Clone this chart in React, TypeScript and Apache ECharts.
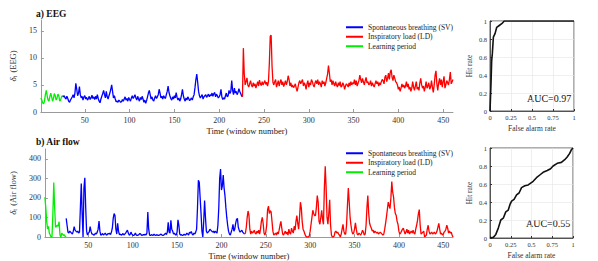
import React, { useEffect, useRef } from "react";
import * as echarts from "echarts";

// ---- window ranges ----
const learnStart = 1;
const svStart = 25;
const ldStart = 226;

// ---- a) EEG ----
const eegLearn = [2.6, 2.2, 1.7, 1.5, 2.0, 3.2, 4.0, 3.0, 2.2, 2.0, 2.8, 3.5, 2.8, 2.0, 2.5, 3.4, 3.0, 2.2, 2.6, 3.3, 3.0, 2.0, 2.2, 2.8, 3.0];
const eegSV = [
  3.0, 2.8, 3.0, 2.6, 2.4, 2.9, 2.5, 2.0, 1.8, 2.2,
  2.5, 2.8, 3.2, 2.6, 3.5, 5.3, 4.2, 3.0, 3.5, 4.7,
  3.2, 2.6, 2.9, 2.2, 2.8, 3.0, 2.4, 2.7, 2.2, 2.5,
  2.9, 2.3, 2.6, 3.1, 2.5, 2.8, 2.3, 2.9, 2.4, 3.2,
  2.5, 2.0, 1.7, 2.4, 2.9, 3.4, 4.0, 3.2, 2.6, 3.8,
  2.8, 2.4, 3.0, 3.5, 4.2, 5.0, 3.8, 2.6, 3.0, 2.4,
  1.9, 2.0, 1.8, 2.2, 2.0, 1.8, 1.9, 2.3, 2.0, 2.4,
  2.8, 2.2, 2.5, 2.0, 2.7, 2.3, 2.0, 2.6, 3.0, 2.5,
  2.8, 3.2, 2.6, 2.2, 2.9, 2.4, 2.0, 2.7, 2.3, 2.9,
  2.4, 1.8, 2.2, 1.6, 2.1, 2.8, 3.5, 4.0, 3.2, 2.4,
  2.8, 2.2, 2.0, 2.6, 3.0, 2.5, 2.8, 3.2, 4.2, 3.5,
  2.6, 2.9, 2.4, 3.0, 2.7, 2.5, 3.2, 3.8, 4.8, 3.6,
  3.0, 2.5, 2.2, 2.8, 2.4, 3.0, 2.6, 3.6, 2.7, 2.2,
  2.6, 2.0, 2.4, 3.2, 4.2, 3.0, 2.4, 2.0, 2.6, 2.2,
  2.8, 2.5, 2.1, 2.3, 2.6, 2.2, 2.8, 3.2, 4.5, 6.0,
  7.0, 5.5, 3.8, 3.0, 2.6, 2.9, 3.2, 2.4, 2.8, 3.0,
  3.2, 2.7, 3.0, 3.3, 2.8, 3.2, 3.0, 3.5, 2.9, 3.4,
  3.6, 2.8, 3.3, 3.0, 2.6, 2.8, 3.2, 4.2, 2.8, 2.3,
  2.6, 2.4, 3.0, 3.5, 2.8, 3.0, 4.0, 3.4, 3.8, 5.8,
  4.0, 3.2, 4.4, 3.5, 3.8, 3.2, 3.6, 4.3, 3.8, 3.4,
  3.0, 2.8,
];
const eegLD = [
  2.8, 11.8, 7.0, 5.0, 5.6, 6.3, 5.0, 4.6, 5.2, 5.8,
  5.0, 4.6, 5.4, 4.8, 5.2, 4.4, 5.0, 5.6, 4.8, 5.9,
  5.2, 4.9, 5.6, 5.0, 5.4, 5.8, 5.1, 5.5, 4.8, 5.6,
  9.0, 14.0, 14.2, 8.5, 5.5, 5.0, 5.6, 6.0, 4.6, 5.2,
  5.8, 4.8, 5.5, 6.0, 5.0, 5.6, 4.7, 5.2, 5.8, 5.0,
  5.6, 6.7, 6.0, 4.8, 5.4, 4.6, 5.0, 4.5, 4.8, 5.2,
  4.4, 3.8, 4.6, 5.4, 5.8, 5.2, 5.6, 6.0, 4.8, 5.4,
  5.0, 4.2, 5.2, 5.8, 4.6, 5.4, 5.0, 6.0, 5.6, 5.0,
  4.6, 5.4, 5.8, 5.2, 6.0, 5.0, 5.6, 5.2, 4.6, 5.8,
  5.2, 5.6, 4.8, 5.4, 6.2, 7.0, 8.6, 7.2, 5.6, 6.0,
  5.0, 5.8, 5.2, 4.8, 5.6, 5.0, 4.6, 5.4, 4.9, 5.6,
  4.6, 4.8, 5.4, 5.0, 4.2, 4.8, 5.2, 5.0, 4.6, 5.4,
  4.8, 5.6, 5.0, 5.4, 5.2, 6.0, 5.0, 5.8, 4.8, 5.3,
  5.8, 6.8, 6.0, 5.4, 6.2, 5.6, 5.0, 5.8, 6.4, 5.4,
  5.6, 5.0, 5.2, 5.8, 4.8, 5.4, 5.0, 4.6, 5.2, 5.8,
  5.2, 5.6, 4.8, 5.4, 5.0, 5.6, 6.0, 5.8, 5.2, 6.4,
  6.8, 5.6, 6.2, 7.2, 6.0, 7.4, 7.8, 6.4, 5.8, 6.8,
  6.2, 5.6, 5.4, 5.0, 4.2, 4.6, 3.8, 4.4, 5.2, 4.6,
  5.0, 4.4, 4.8, 5.6, 4.6, 5.2, 4.2, 4.6, 3.8, 4.4,
  5.6, 4.6, 4.0, 4.8, 5.6, 4.2, 4.6, 4.0, 5.4, 6.2,
  5.0, 4.4, 4.8, 3.8, 4.6, 5.6, 4.4, 4.8, 5.4, 4.2,
  4.6, 5.8, 4.6, 3.6, 5.0, 6.8, 7.6, 5.2, 4.0, 5.4,
  6.2, 5.0, 6.0, 4.6, 5.6, 6.6, 4.4, 5.0, 5.8, 5.4,
  5.0, 6.0, 7.4, 5.2, 5.6, 6.0,
];

// ---- b) Air flow ----
const airLearn = [203, 150, 80, 40, 55, 20, 10, 0, 2, 120, 278, 150, 50, 55, 60, 55, 78, 10, 0, 20, 15, 8, 12, 2, 0];
const airSV = [
  95, 60, 25, 20, 30, 25, 20, 15, 30, 53,
  35, 30, 25, 30, 20, 25, 150, 273, 120, 0,
  250, 303, 150, 30, 10, 20, 25, 53, 30, 15,
  15, 10, 12, 20, 15, 25, 40, 82, 30, 10,
  12, 18, 10, 15, 20, 12, 10, 18, 15, 20,
  12, 25, 45, 95, 120, 110, 40, 15, 70, 30,
  12, 15, 10, 12, 18, 10, 15, 20, 28, 35,
  20, 10, 12, 25, 15, 10, 8, 12, 20, 10,
  8, 10, 12, 18, 15, 8, 10, 12, 10, 15,
  10, 20, 128, 40, 10, 8, 12, 10, 8, 15,
  10, 8, 12, 10, 8, 10, 12, 15, 10, 8,
  10, 15, 20, 12, 25, 75, 25, 20, 85, 40,
  30, 15, 20, 12, 10, 25, 88, 60, 15, 10,
  12, 8, 10, 15, 10, 12, 20, 15, 10, 25,
  20, 28, 15, 10, 20, 15, 25, 40, 150, 290,
  280, 200, 120, 30, 0, 80, 187, 100, 30, 20,
  25, 30, 40, 35, 30, 25, 30, 20, 30, 25,
  20, 60, 150, 300, 348, 240, 260, 317, 250, 210,
  150, 100, 60, 30, 15, 10, 25, 40, 65, 30,
  40, 70, 90, 95, 50, 35, 25, 30, 35, 25,
  20, 15,
];
const airLD = [
  15, 20, 50, 100, 133, 110, 40, 15, 30, 20,
  25, 35, 20, 15, 30, 20, 35, 15, 40, 80,
  100, 70, 20, 10, 25, 60, 140, 158, 120, 135,
  128, 80, 30, 10, 15, 20, 10, 25, 15, 35,
  60, 80, 45, 15, 10, 20, 30, 15, 25, 10,
  40, 20, 15, 45, 30, 20, 55, 35, 80, 110,
  70, 40, 100, 178, 150, 80, 40, 30, 15, 5,
  0, 0, 0, 5, 30, 65, 100, 137, 120, 110,
  110, 150, 212, 180, 80, 65, 100, 137, 90, 65,
  250, 362, 250, 100, 65, 120, 190, 60, 10, 0,
  0, 5, 25, 30, 20, 25, 15, 10, 0, 15,
  40, 65, 30, 15, 15, 60, 160, 250, 180, 100,
  60, 30, 15, 20, 40, 72, 40, 15, 10, 20,
  15, 10, 20, 35, 25, 10, 15, 60, 150, 212,
  120, 70, 55, 45, 30, 35, 20, 30, 25, 20,
  25, 15, 20, 25, 20, 15, 10, 15, 40, 70,
  103, 140, 178, 160, 145, 200, 283, 230, 205, 150,
  120, 110, 80, 65, 30, 15, 20, 30, 40, 45,
  30, 15, 25, 40, 20, 35, 15, 25, 30, 20,
  35, 20, 15, 40, 60, 85, 120, 140, 60, 15,
  20, 25, 30, 0, 5, 10, 40, 60, 30, 15,
  20, 25, 15, 20, 25, 15, 20, 30, 50, 70,
  40, 15, 20, 10, 15, 25, 30, 40, 60, 45,
  20, 30, 20, 25, 10, 0,
];

// ---- ROC curves ----
const rocEegFar = [0, 0.012, 0.02, 0.028, 0.04, 0.06, 0.08, 0.11, 0.14, 0.17, 1];
const rocEegHit = [0, 0.31, 0.56, 0.64, 0.82, 0.86, 0.93, 0.95, 0.97, 1, 1];
const rocAirFar = [0, 0.04, 0.07, 0.1, 0.13, 0.16, 0.19, 0.22, 0.24, 0.26, 0.29, 0.32, 0.35, 0.38, 0.42, 0.46, 0.49, 0.52, 0.56, 0.6, 0.64, 0.69, 0.73, 0.76, 0.81, 0.86, 0.9, 0.93, 0.96, 0.98, 1];
const rocAirHit = [0, 0.007, 0.04, 0.11, 0.2, 0.22, 0.29, 0.31, 0.37, 0.41, 0.43, 0.48, 0.5, 0.56, 0.58, 0.59, 0.61, 0.63, 0.67, 0.7, 0.73, 0.75, 0.77, 0.8, 0.83, 0.84, 0.87, 0.9, 0.94, 0.98, 1];
const aucEeg = "AUC=0.97";
const aucAir = "AUC=0.55";

const timeTicks = [50, 100, 150, 200, 250, 300, 350, 400, 450];
const eegTicks = [0, 5, 10, 15];
const airTicks = [0, 100, 200, 300, 400];

const NAME_SV = "Spontaneous breathing (SV)";
const NAME_LD = "Inspiratory load (LD)";
const NAME_LP = "Learning period";

const SERIF = "Liberation Serif";

function pairs(arr: number[], start: number) {
  return arr.map((v, i) => [start + i, v]);
}
function zip(a: number[], b: number[]) {
  return a.map((v, i) => [v, b[i]]);
}

function mainX(gridIndex: number) {
  return {
    type: "value",
    gridIndex,
    min: 1,
    max: 461,
    axisLine: { show: true, lineStyle: { color: "#9a9a9a", width: 1 } },
    axisTick: { show: true, inside: true, length: 3, customValues: timeTicks, lineStyle: { color: "#9a9a9a" } },
    axisLabel: { customValues: timeTicks, fontSize: 8, color: "#333", fontFamily: SERIF, margin: 4 },
    splitLine: { show: false },
    name: "Time (window number)",
    nameLocation: "middle",
    nameGap: 14,
    nameTextStyle: { fontSize: 8.5, color: "#222", fontFamily: SERIF },
  };
}

function mainY(gridIndex: number, max: number, ticks: number[], label: string) {
  return {
    type: "value",
    gridIndex,
    min: 0,
    max,
    axisLine: { show: true, lineStyle: { color: "#9a9a9a", width: 1 } },
    axisTick: { show: true, inside: true, length: 3, customValues: ticks, lineStyle: { color: "#9a9a9a" } },
    axisLabel: { customValues: ticks, fontSize: 8, color: "#333", fontFamily: SERIF, margin: 4 },
    splitLine: { show: false },
    name: "{d|δ}{s|t} (" + label + ")",
    nameLocation: "middle",
    nameRotate: 90,
    nameGap: label === "EEG" ? 14 : 20,
    nameTextStyle: {
      fontSize: 8.5,
      color: "#333",
      fontFamily: SERIF,
      rich: {
        d: { fontSize: 9, fontStyle: "italic", fontFamily: SERIF, color: "#333" },
        s: { fontSize: 6, fontFamily: SERIF, color: "#333", padding: [5, 1, 0, 0] },
      },
    },
  };
}

function rocX(gridIndex: number) {
  return {
    type: "value",
    gridIndex,
    min: 0,
    max: 1,
    interval: 0.25,
    axisLine: { show: true, lineStyle: { color: "#333", width: 0.8 } },
    axisTick: { show: true, inside: true, length: 2, lineStyle: { color: "#333" } },
    axisLabel: { fontSize: 6.5, color: "#333", fontFamily: SERIF, margin: 3 },
    splitLine: { show: true, lineStyle: { color: "#e4e4e4", width: 0.6 } },
    name: "False alarm rate",
    nameLocation: "middle",
    nameGap: 13,
    nameTextStyle: { fontSize: 7.5, color: "#333", fontFamily: SERIF },
  };
}
function rocY(gridIndex: number) {
  return {
    type: "value",
    gridIndex,
    min: 0,
    max: 1,
    interval: 0.2,
    axisLine: { show: true, lineStyle: { color: "#333", width: 0.8 } },
    axisTick: { show: true, inside: true, length: 2, lineStyle: { color: "#333" } },
    axisLabel: { fontSize: 6.5, color: "#333", fontFamily: SERIF, margin: 3 },
    splitLine: { show: true, lineStyle: { color: "#e4e4e4", width: 0.6 } },
    name: "Hit rate",
    nameLocation: "middle",
    nameRotate: 90,
    nameGap: 17,
    nameTextStyle: { fontSize: 7.5, color: "#333", fontFamily: SERIF },
  };
}

function line(name: string, color: string, data: number[][], idx: number, width = 1.3) {
  return {
    type: "line",
    name,
    xAxisIndex: idx,
    yAxisIndex: idx,
    data,
    showSymbol: false,
    symbol: "none",
    color,
    lineStyle: { color, width },
    z: name === NAME_LP ? 3 : 2,
  };
}

function legend(top: number) {
  return {
    orient: "vertical",
    left: 346,
    top,
    padding: 0,
    itemGap: 1,
    itemWidth: 17,
    itemHeight: 2,
    icon: "rect",
    data: [NAME_SV, NAME_LD, NAME_LP],
    textStyle: { fontSize: 7.5, color: "#222", fontFamily: SERIF, lineHeight: 8.5 },
  };
}

export default function App() {
  const ref = useRef<HTMLDivElement>(null);
  useEffect(() => {
    document.body.style.margin = "0";
    const chart = echarts.init(ref.current!, null, { renderer: "svg" });
    const option = {
      animation: false,
      backgroundColor: "#ffffff",
      textStyle: { fontFamily: SERIF },
      grid: [
        { left: 32, top: 20, width: 421, height: 92 },
        { left: 32, top: 149, width: 421, height: 90 },
        { left: 490, top: 21, width: 84, height: 90, show: true, borderColor: "#333", borderWidth: 0.8 },
        { left: 490, top: 148, width: 83, height: 90, show: true, borderColor: "#333", borderWidth: 0.8 },
      ],
      xAxis: [mainX(0), mainX(1), rocX(2), rocX(3)],
      yAxis: [mainY(0, 17, eegTicks, "EEG"), mainY(1, 450, airTicks, "Air flow"), rocY(2), rocY(3)],
      legend: [legend(23), legend(149)],
      series: [
        line(NAME_SV, "#0000ff", pairs(eegSV, svStart), 0),
        line(NAME_LD, "#ff0000", pairs(eegLD, ldStart), 0),
        line(NAME_LP, "#00ee00", pairs(eegLearn, learnStart), 0),
        line(NAME_SV, "#0000ff", pairs(airSV, svStart), 1),
        line(NAME_LD, "#ff0000", pairs(airLD, ldStart), 1),
        line(NAME_LP, "#00ee00", pairs(airLearn, learnStart), 1),
        { type: "line", xAxisIndex: 2, yAxisIndex: 2, data: zip(rocEegFar, rocEegHit), showSymbol: false, symbol: "none", lineStyle: { color: "#111", width: 1.6 } },
        { type: "line", xAxisIndex: 3, yAxisIndex: 3, data: zip(rocAirFar, rocAirHit), showSymbol: false, symbol: "none", lineStyle: { color: "#111", width: 1.6 } },
      ],
      graphic: [
        { type: "text", left: 36, top: 9, style: { text: "a) EEG", fontSize: 9.5, fontWeight: "bold", fontFamily: SERIF, fill: "#111" } },
        { type: "text", left: 36, top: 137, style: { text: "b) Air flow", fontSize: 9.5, fontWeight: "bold", fontFamily: SERIF, fill: "#111" } },
        { type: "text", left: 527, top: 93, style: { text: aucEeg, fontSize: 10, fontFamily: SERIF, fill: "#111" } },
        { type: "text", left: 526, top: 218, style: { text: aucAir, fontSize: 10, fontFamily: SERIF, fill: "#111" } },
      ],
    };
    chart.setOption(option as any);
    return () => chart.dispose();
  }, []);
  return <div ref={ref} style={{ width: 598, height: 261 }} />;
}
